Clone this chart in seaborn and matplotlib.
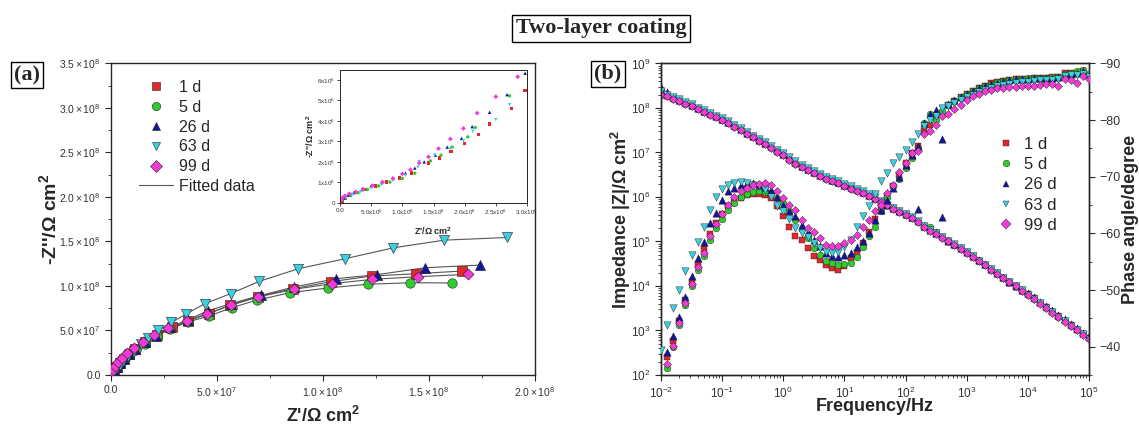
import numpy as np
import matplotlib
matplotlib.use("Agg")
import matplotlib.pyplot as plt
import seaborn as sns
from matplotlib.ticker import FuncFormatter, MultipleLocator, LogLocator, NullFormatter
from matplotlib.lines import Line2D

# ---------------- series meta ----------------
labels = ["1 d", "5 d", "26 d", "63 d", "99 d"]
colors = ["#E3262A", "#2FCB2F", "#14149A", "#3CCFE0", "#F23BD6"]
markers = ["s", "o", "^", "v", "D"]

# ---------------- (a) Nyquist, values in 1e8 ohm cm2 ----------------
zre_1d = [0.005, 0.014, 0.026, 0.041, 0.060, 0.084, 0.115, 0.158, 0.218, 0.287,
          0.364, 0.462, 0.562, 0.694, 0.859, 1.038, 1.232, 1.438, 1.656]
zim_1d = [0.028, 0.055, 0.090, 0.130, 0.178, 0.232, 0.290, 0.366, 0.448, 0.534,
          0.608, 0.690, 0.784, 0.881, 0.970, 1.049, 1.112, 1.138, 1.168]
zre_5d = [0.005, 0.014, 0.026, 0.041, 0.060, 0.085, 0.116, 0.160, 0.218, 0.278,
          0.364, 0.464, 0.570, 0.686, 0.845, 1.022, 1.210, 1.412, 1.607]
zim_5d = [0.027, 0.053, 0.086, 0.125, 0.170, 0.222, 0.279, 0.350, 0.440, 0.515,
          0.597, 0.664, 0.757, 0.840, 0.925, 0.978, 1.019, 1.037, 1.034]
zre_26d = [0.005, 0.014, 0.026, 0.041, 0.060, 0.084, 0.115, 0.158, 0.210, 0.278,
           0.361, 0.455, 0.565, 0.708, 0.863, 1.060, 1.253, 1.481, 1.739]
zim_26d = [0.030, 0.056, 0.090, 0.131, 0.179, 0.235, 0.291, 0.366, 0.440, 0.534,
           0.619, 0.720, 0.802, 0.896, 0.989, 1.082, 1.127, 1.205, 1.235]
zre_63d = [0.002, 0.007, 0.014, 0.026, 0.041, 0.058, 0.081, 0.110, 0.141, 0.174,
           0.222, 0.284, 0.352, 0.443, 0.564, 0.699, 0.883, 1.103, 1.332, 1.570, 1.869]
zim_63d = [0.011, 0.026, 0.049, 0.078, 0.116, 0.160, 0.209, 0.272, 0.347, 0.420,
           0.500, 0.590, 0.683, 0.802, 0.914, 1.052, 1.194, 1.306, 1.429, 1.515, 1.545]
zre_99d = [0.002, 0.007, 0.017, 0.033, 0.052, 0.076, 0.107, 0.149, 0.201, 0.270,
           0.356, 0.454, 0.565, 0.694, 0.863, 1.043, 1.232, 1.447, 1.682]
zim_99d = [0.030, 0.060, 0.097, 0.142, 0.190, 0.246, 0.302, 0.373, 0.448, 0.526,
           0.608, 0.690, 0.784, 0.877, 0.963, 1.026, 1.075, 1.104, 1.131]

# inset (high frequency part), values in 1e6 ohm cm2
ins_re_1d = [0.03, 0.08, 0.16, 0.27, 0.41, 0.57, 0.75, 0.95, 1.15, 1.42, 1.60, 1.78, 2.00, 2.22, 2.40, 2.75, 2.97]
ins_im_1d = [0.10, 0.24, 0.37, 0.50, 0.66, 0.83, 1.02, 1.22, 1.46, 1.95, 2.20, 2.50, 2.90, 3.35, 3.85, 4.60, 5.48]
ins_re_5d = [0.03, 0.09, 0.17, 0.29, 0.44, 0.62, 0.80, 1.00, 1.20, 1.45, 1.62, 1.80, 2.05, 2.17, 2.72]
ins_im_5d = [0.10, 0.24, 0.37, 0.50, 0.66, 0.83, 1.02, 1.20, 1.45, 2.05, 2.33, 2.72, 3.22, 3.68, 5.22]
ins_re_26d = [0.02, 0.06, 0.13, 0.22, 0.35, 0.50, 0.67, 0.85, 1.05, 1.20, 1.35, 1.53, 1.72, 1.95, 2.12, 2.40, 2.68, 2.97]
ins_im_26d = [0.10, 0.25, 0.38, 0.50, 0.65, 0.82, 1.00, 1.20, 1.45, 1.70, 2.00, 2.33, 2.72, 3.15, 3.72, 4.42, 5.28, 6.32]
ins_re_63d = [0.03, 0.10, 0.20, 0.33, 0.50, 0.67, 0.85, 1.05, 1.25, 1.27, 1.52, 1.77, 1.98, 2.13, 2.50, 2.72]
ins_im_63d = [0.12, 0.27, 0.42, 0.55, 0.72, 0.90, 1.10, 1.35, 1.75, 2.02, 2.33, 2.65, 3.02, 3.50, 4.06, 4.79]
ins_re_99d = [0.00, 0.02, 0.04, 0.08, 0.15, 0.25, 0.37, 0.52, 0.68, 0.85, 1.00, 1.13, 1.27, 1.42, 1.58, 1.77, 1.98, 2.20, 2.50, 2.85]
ins_im_99d = [0.05, 0.15, 0.25, 0.35, 0.45, 0.55, 0.68, 0.85, 1.02, 1.20, 1.42, 1.62, 1.95, 2.25, 2.65, 3.12, 3.63, 4.38, 5.18, 6.15]

# ---------------- (b) Bode ----------------
# 10 points per decade, 0.01 Hz ... 100 kHz
decade_steps = [1.0, 1.26, 1.58, 2.0, 2.51, 3.16, 3.98, 5.01, 6.31, 7.94]
freq = [m * 10.0 ** e for e in range(-2, 5) for m in decade_steps] + [1.0e5]

# log10 |Z| (ohm cm2)
logz_1d = [8.32, 8.27, 8.22, 8.17, 8.11, 8.05, 7.98, 7.92, 7.86, 7.80,
           7.74, 7.67, 7.59, 7.51, 7.42, 7.35, 7.27, 7.20, 7.12, 7.03,
           6.95, 6.85, 6.76, 6.68, 6.61, 6.54, 6.48, 6.42, 6.37, 6.32,
           6.26, 6.20, 6.15, 6.09, 6.03, 5.96, 5.89, 5.82, 5.75, 5.68,
           5.61, 5.53, 5.44, 5.34, 5.25, 5.17, 5.09, 5.01, 4.93, 4.85,
           4.76, 4.67, 4.57, 4.48, 4.38, 4.29, 4.19, 4.09, 4.00, 3.90,
           3.81, 3.72, 3.62, 3.52, 3.42, 3.32, 3.22, 3.12, 3.02, 2.92, 2.83]
logz_5d = [8.29, 8.26, 8.21, 8.16, 8.10, 8.04, 7.97, 7.91, 7.85, 7.79,
           7.73, 7.66, 7.58, 7.50, 7.41, 7.34, 7.26, 7.19, 7.11, 7.02,
           6.94, 6.84, 6.75, 6.67, 6.60, 6.53, 6.47, 6.41, 6.36, 6.31,
           6.25, 6.19, 6.14, 6.08, 6.02, 5.95, 5.88, 5.81, 5.74, 5.67,
           5.60, 5.52, 5.43, 5.33, 5.33, 5.22, 5.08, 5.00, 4.92, 4.84,
           4.75, 4.66, 4.56, 4.47, 4.37, 4.28, 4.18, 4.08, 3.99, 3.89,
           3.80, 3.71, 3.61, 3.51, 3.41, 3.31, 3.21, 3.11, 3.01, 2.91, 2.84]
logz_26d = [8.48, 8.36, 8.24, 8.19, 8.13, 8.07, 8.00, 7.94, 7.88, 7.82,
            7.76, 7.69, 7.61, 7.53, 7.44, 7.37, 7.29, 7.22, 7.14, 7.05,
            6.97, 6.87, 6.78, 6.70, 6.63, 6.56, 6.50, 6.44, 6.39, 6.34,
            6.28, 6.22, 6.17, 6.11, 6.05, 5.98, 5.90, 5.83, 5.76, 5.69,
            5.62, 5.54, 5.72, 5.35, 5.26, 5.18, 5.54, 5.02, 4.94, 4.86,
            4.77, 4.68, 4.58, 4.49, 4.39, 4.30, 4.20, 4.10, 4.01, 3.91,
            3.84, 3.75, 3.65, 3.55, 3.45, 3.35, 3.25, 3.15, 3.05, 2.95, 2.87]
logz_63d = [8.38, 8.30, 8.25, 8.20, 8.14, 8.08, 8.01, 7.95, 7.89, 7.83,
            7.77, 7.70, 7.62, 7.54, 7.45, 7.38, 7.30, 7.23, 7.15, 7.06,
            6.98, 6.89, 6.80, 6.72, 6.65, 6.58, 6.52, 6.46, 6.41, 6.36,
            6.30, 6.24, 6.19, 6.13, 6.07, 6.00, 5.90, 5.83, 5.76, 5.69,
            5.62, 5.54, 5.45, 5.35, 5.26, 5.18, 5.10, 5.02, 4.94, 4.86,
            4.77, 4.67, 4.57, 4.48, 4.38, 4.29, 4.19, 4.09, 4.00, 3.90,
            3.80, 3.71, 3.61, 3.51, 3.41, 3.31, 3.21, 3.11, 3.01, 2.91, 2.81]
logz_99d = [8.30, 8.26, 8.21, 8.16, 8.10, 8.04, 7.97, 7.91, 7.85, 7.79,
            7.73, 7.66, 7.58, 7.50, 7.41, 7.34, 7.26, 7.19, 7.11, 7.02,
            6.94, 6.84, 6.75, 6.67, 6.60, 6.53, 6.47, 6.41, 6.36, 6.31,
            6.25, 6.19, 6.14, 6.08, 6.02, 5.95, 5.88, 5.81, 5.74, 5.67,
            5.60, 5.52, 5.43, 5.33, 5.24, 5.16, 5.08, 5.00, 4.92, 4.84,
            4.75, 4.66, 4.56, 4.47, 4.37, 4.28, 4.18, 4.08, 3.99, 3.89,
            3.79, 3.70, 3.60, 3.50, 3.40, 3.30, 3.20, 3.10, 3.00, 2.90, 2.80]

# phase angle (degree)
nan = np.nan
phase_1d = [nan, -38.2, -41.0, -44.6, -48.2, -51.5, -54.6, -57.2, -59.9, -61.8,
            -63.4, -64.8, -65.6, -66.2, -66.7, -66.9, -66.9, -66.8, -66.2, -64.8,
            -63.0, -61.2, -59.5, -58.9, -57.4, -56.0, -55.3, -54.4, -53.9, -53.6,
            -54.3, -55.6, -56.6, -58.3, -60.3, -62.5, -64.6, -66.5, -68.3, -70.4,
            -72.4, -74.2, -75.4, -78.0, -79.1, -80.3, -81.3, -82.7, -83.4, -84.0,
            -84.6, -85.2, -85.7, -86.1, -86.5, -86.7, -86.9, -87.1, -87.2, -87.3,
            -87.3, -87.4, -87.4, -87.5, -87.6, -87.7, -88.3, -88.4, -88.4, -88.6, -87.9]
phase_5d = [nan, -36.2, -40.0, -43.8, -47.4, -50.8, -53.6, -56.0, -58.8, -60.9,
            -62.6, -64.2, -65.4, -66.4, -67.0, -67.3, -67.4, -67.3, -67.1, -66.3,
            -65.4, -63.9, -62.3, -60.8, -59.2, -57.4, -56.2, -55.2, -54.7, -54.4,
            -54.6, -54.7, -55.9, -57.6, -59.5, -61.2, -63.9, -66.5, -68.3, -69.6,
            -71.5, -73.3, -75.1, -79.5, -81.0, -80.1, -81.6, -82.6, -83.3, -84.0,
            -84.6, -85.1, -85.6, -86.0, -86.4, -86.7, -86.9, -87.1, -87.2, -87.3,
            -87.4, -87.4, -87.5, -87.5, -87.6, -87.7, -88.2, -88.4, -88.6, -88.9, -88.2]
phase_26d = [nan, -39.1, -41.9, -45.3, -48.8, -52.4, -55.6, -58.4, -61.8, -63.6,
             -65.9, -67.4, -68.0, -68.6, -68.9, -68.9, -68.6, -68.2, -67.6, -66.4,
             -65.0, -64.0, -63.1, -61.5, -60.2, -58.9, -57.7, -56.6, -56.0, -55.8,
             -56.2, -56.6, -57.6, -58.7, -60.0, -62.4, -64.2, -65.9, -68.0, -70.0,
             -72.0, -73.9, -75.5, -79.5, -81.0, -81.8, -76.7, -82.8, -83.5, -84.1,
             -84.6, -85.1, -85.6, -86.0, -86.4, -86.6, -86.9, -87.0, -87.2, -87.3,
             -87.3, -87.4, -87.4, -87.5, -87.5, -87.6, -88.0, -88.2, -88.4, -88.7, -88.0]
phase_63d = [-39.4, -43.8, -46.8, -50.0, -53.4, -56.2, -58.4, -61.2, -64.2, -66.5,
             -67.8, -68.6, -68.9, -69.0, -68.9, -68.6, -68.3, -67.7, -66.5, -64.8,
             -64.0, -62.5, -60.9, -60.0, -59.3, -58.3, -57.4, -56.7, -56.6, -56.8,
             -57.6, -58.9, -61.2, -63.0, -64.8, -67.0, -69.2, -70.7, -72.4, -73.5,
             -74.7, -76.1, -77.5, -79.0, -80.0, -80.7, -82.2, -82.5, -83.0, -83.5,
             -84.0, -84.5, -84.9, -85.3, -85.7, -86.0, -86.2, -86.4, -86.6, -86.7,
             -86.8, -86.9, -87.0, -87.0, -87.1, -87.2, -87.8, -87.9, -87.9, -88.1, -87.6]
phase_99d = [nan, -37.0, -40.1, -44.1, -47.7, -51.0, -54.0, -56.5, -59.5, -61.6,
             -63.5, -65.0, -66.4, -67.4, -68.1, -68.5, -68.7, -68.9, -68.6, -67.5,
             -66.3, -65.1, -64.2, -62.4, -60.9, -60.3, -59.2, -58.0, -57.7, -57.7,
             -58.3, -58.9, -59.8, -61.2, -62.4, -63.9, -65.1, -67.1, -68.6, -70.9,
             -72.4, -74.2, -74.5, -77.5, -78.1, -79.2, -80.7, -81.0, -82.0, -82.7,
             -83.5, -84.2, -84.7, -85.1, -85.4, -85.6, -85.7, -85.8, -85.9, -86.0,
             -86.0, -86.1, -86.2, -86.3, -86.3, -86.0, -87.2, -87.0, -86.6, -87.8, -87.3]

nyq_re = [zre_1d, zre_5d, zre_26d, zre_63d, zre_99d]
nyq_im = [zim_1d, zim_5d, zim_26d, zim_63d, zim_99d]
ins_re = [ins_re_1d, ins_re_5d, ins_re_26d, ins_re_63d, ins_re_99d]
ins_im = [ins_im_1d, ins_im_5d, ins_im_26d, ins_im_63d, ins_im_99d]
logz = [logz_1d, logz_5d, logz_26d, logz_63d, logz_99d]
phase = [phase_1d, phase_5d, phase_26d, phase_63d, phase_99d]

# ---------------- style ----------------
sns.set_style("ticks")
plt.rcParams["font.family"] = ["Liberation Sans", "DejaVu Sans"]
plt.rcParams["mathtext.fontset"] = "custom"
plt.rcParams["mathtext.rm"] = "Liberation Sans"
plt.rcParams["mathtext.it"] = "Liberation Sans:italic"
plt.rcParams["mathtext.bf"] = "Liberation Sans:bold"
plt.rcParams["axes.linewidth"] = 1.0
plt.rcParams["xtick.direction"] = "out"
plt.rcParams["ytick.direction"] = "out"

TICK_COLOR = "#333333"
EDGE = "#222222"
big_s = {"s": 42, "o": 46, "^": 54, "v": 54, "D": 32}
small_s = {"s": 20, "o": 23, "^": 28, "v": 28, "D": 17}

fig = plt.figure(figsize=(11.39, 4.37), dpi=100)
ax_a = fig.add_axes([0.0975, 0.1419, 0.3723, 0.7128])
ax_b = fig.add_axes([0.5803, 0.1419, 0.3758, 0.7128])
ax_in = fig.add_axes([0.2985, 0.5355, 0.1642, 0.3043])


def sci_label(v, pos):
    if abs(v) < 1e-12:
        return "0.0"
    e = int(np.floor(np.log10(abs(v)) + 1e-9))
    m = v / 10 ** e
    return rf"${m:.1f}\times10^{{{e}}}$"


def inset_x_label(v, pos):
    if abs(v) < 1e-12:
        return "0.0"
    e = int(np.floor(np.log10(abs(v)) + 1e-9))
    return rf"${v / 10 ** e:.1f}$x$10^{{{e}}}$"


def inset_y_label(v, pos):
    if abs(v) < 1e-12:
        return "0"
    e = int(np.floor(np.log10(abs(v)) + 1e-9))
    return rf"${v / 10 ** e:.0f}$x$10^{{{e}}}$"


# ---------------- (a) ----------------
for i in range(5):
    x = np.array(nyq_re[i]) * 1e8
    y = np.array(nyq_im[i]) * 1e8
    sns.lineplot(x=x, y=y, sort=False, estimator=None, color="#555555",
                 linewidth=0.8, ax=ax_a, zorder=2)
for i in range(5):
    x = np.array(nyq_re[i]) * 1e8
    y = np.array(nyq_im[i]) * 1e8
    sns.scatterplot(x=x, y=y, marker=markers[i], color=colors[i],
                    s=big_s[markers[i]], edgecolor=EDGE, linewidth=0.4,
                    ax=ax_a, zorder=3, legend=False)

ax_a.set_xlim(0, 2.0e8)
ax_a.set_ylim(0, 3.5e8)
ax_a.xaxis.set_major_locator(MultipleLocator(5e7))
ax_a.xaxis.set_minor_locator(MultipleLocator(2.5e7))
ax_a.yaxis.set_major_locator(MultipleLocator(5e7))
ax_a.yaxis.set_minor_locator(MultipleLocator(2.5e7))
ax_a.xaxis.set_major_formatter(FuncFormatter(sci_label))
ax_a.yaxis.set_major_formatter(FuncFormatter(sci_label))
ax_a.tick_params(which="both", labelsize=7.5, labelcolor=TICK_COLOR)
ax_a.tick_params(which="major", length=4)
ax_a.tick_params(which="minor", length=2.5)
ax_a.set_xlabel("Z'/Ω cm$^{\\mathbf{2}}$", fontsize=13, fontweight="bold")
ax_a.set_ylabel("-Z''/Ω cm$^{\\mathbf{2}}$", fontsize=14, fontweight="bold")
ax_a.xaxis.set_label_coords(0.5, -0.1)
ax_a.yaxis.set_label_coords(-0.12, 0.5)

handles = [Line2D([], [], linestyle="none", marker=markers[i], color=colors[i],
                  markeredgecolor=EDGE, markeredgewidth=0.4, markersize=6)
           for i in range(5)]
handles.append(Line2D([], [], color="#555555", linewidth=0.8))
ax_a.legend(handles, labels + ["Fitted data"], loc="upper left",
            bbox_to_anchor=(0.066, 0.947), frameon=False, fontsize=11.5,
            handlelength=2.1, handletextpad=0.4, labelspacing=0.3,
            borderpad=0, borderaxespad=0)

# inset
for i in range(5):
    sns.scatterplot(x=np.array(ins_re[i]) * 1e6, y=np.array(ins_im[i]) * 1e6,
                    marker=markers[i], color=colors[i], s=6,
                    edgecolor="none", ax=ax_in, legend=False)
ax_in.set_xlim(0, 3.0e6)
ax_in.set_ylim(0, 6.48e6)
ax_in.xaxis.set_major_locator(MultipleLocator(5e5))
ax_in.yaxis.set_major_locator(MultipleLocator(1e6))
ax_in.xaxis.set_major_formatter(FuncFormatter(inset_x_label))
ax_in.yaxis.set_major_formatter(FuncFormatter(inset_y_label))
ax_in.tick_params(labelsize=4.5, length=2, width=0.6, labelcolor=TICK_COLOR, pad=1.5)
for sp in ax_in.spines.values():
    sp.set_linewidth(0.7)
ax_in.set_xlabel("Z'/Ω cm$^{\\mathbf{2}}$", fontsize=6.5, fontweight="bold", labelpad=6)
ax_in.set_ylabel("-Z''/Ω cm$^{\\mathbf{2}}$", fontsize=6.5, fontweight="bold", labelpad=1)

# ---------------- (b) ----------------
ax_p = ax_b.twinx()
for i in range(5):
    sns.scatterplot(x=freq, y=10.0 ** np.array(logz[i]), marker=markers[i],
                    color=colors[i], s=small_s[markers[i]], edgecolor=EDGE,
                    linewidth=0.3, ax=ax_b, legend=False, zorder=3)
for i in range(5):
    sns.scatterplot(x=freq, y=phase[i], marker=markers[i], color=colors[i],
                    s=small_s[markers[i]], edgecolor=EDGE, linewidth=0.3,
                    ax=ax_p, legend=False, zorder=3)

ax_b.set_xscale("log")
ax_b.set_yscale("log")
ax_b.set_xlim(1e-2, 1e5)
ax_b.set_ylim(1e2, 1e9)
ax_b.xaxis.set_major_locator(LogLocator(base=10, numticks=10))
ax_b.xaxis.set_minor_locator(LogLocator(base=10, subs=np.arange(2, 10), numticks=10))
ax_b.yaxis.set_major_locator(LogLocator(base=10, numticks=10))
ax_b.yaxis.set_minor_locator(LogLocator(base=10, subs=np.arange(2, 10), numticks=10))
ax_b.xaxis.set_minor_formatter(NullFormatter())
ax_b.yaxis.set_minor_formatter(NullFormatter())
ax_b.tick_params(which="both", labelsize=8.5, labelcolor=TICK_COLOR)
ax_b.tick_params(which="major", length=4)
ax_b.tick_params(which="minor", length=2.5)

ax_p.set_ylim(-35, -90)
ax_p.yaxis.set_major_locator(MultipleLocator(10))
ax_p.yaxis.set_minor_locator(MultipleLocator(5))
ax_p.tick_params(which="both", labelsize=9, labelcolor=TICK_COLOR)
ax_p.tick_params(which="major", length=4)
ax_p.tick_params(which="minor", length=2.5)
ax_p.set_ylabel("Phase angle/degree", fontsize=13, fontweight="bold")
ax_p.yaxis.set_label_coords(1.077, 0.5)

ax_b.set_xlabel("Frequency/Hz", fontsize=13, fontweight="bold")
ax_b.set_ylabel("Impedance |Z|/Ω cm$^{\\mathbf{2}}$", fontsize=13, fontweight="bold")
ax_b.xaxis.set_label_coords(0.5, -0.075)
ax_b.yaxis.set_label_coords(-0.065, 0.5)

handles_b = [Line2D([], [], linestyle="none", marker=markers[i], color=colors[i],
                    markeredgecolor=EDGE, markeredgewidth=0.3, markersize=4.8)
             for i in range(5)]
ax_p.legend(handles_b, labels, loc="upper left", bbox_to_anchor=(0.787, 0.765),
            frameon=False, fontsize=12, handlelength=1.0, handletextpad=0.55,
            labelspacing=0.32, borderpad=0, borderaxespad=0)

# ---------------- titles ----------------
box = dict(boxstyle="square,pad=0.15", facecolor="white", edgecolor="black", linewidth=1.0)
fig.text(0.5277, 0.935, "Two-layer coating", fontfamily="Liberation Serif",
         fontweight="bold", fontsize=16, ha="center", va="center", bbox=box)
fig.text(0.0237, 0.828, "(a)", fontfamily="Liberation Serif", fontweight="bold",
         fontsize=16, ha="center", va="center", bbox=box)
fig.text(0.5338, 0.831, "(b)", fontfamily="Liberation Serif", fontweight="bold",
         fontsize=16, ha="center", va="center", bbox=box)

fig.savefig("out.png", dpi=100)
plt.close(fig)
